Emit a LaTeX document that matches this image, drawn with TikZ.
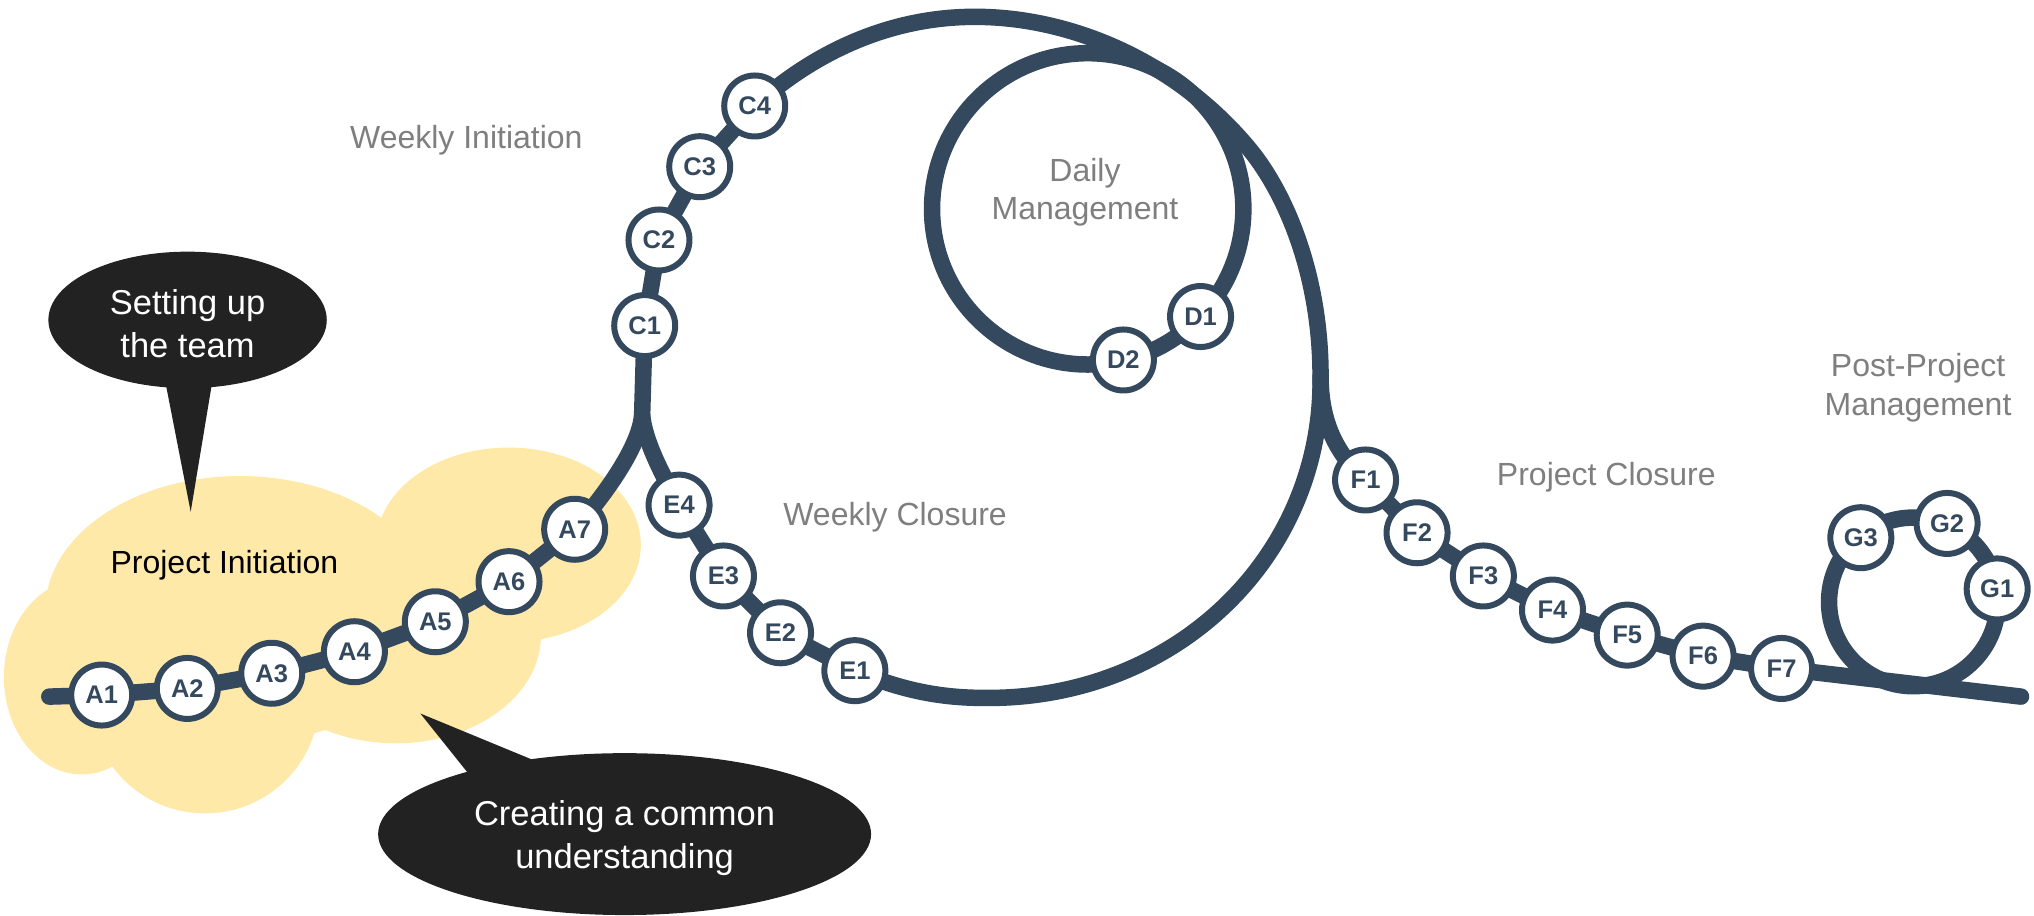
\documentclass[tikz,border=0pt]{standalone}
\usepackage{fontspec}
\setmainfont{Liberation Sans}
\pgfdeclarelayer{back}
\pgfsetlayers{back,main}
\definecolor{trackc}{HTML}{34495E}
\definecolor{cloudc}{HTML}{FFE9A8}
\definecolor{bubblec}{HTML}{222222}
\definecolor{labelgray}{HTML}{7F7F7F}
\begin{document}
\begin{tikzpicture}[x=1.2972pt,y=-1.2972pt,
  station/.style={circle,draw=trackc,line width=6pt,fill=white,minimum size=61pt,inner sep=0pt,
    font=\fontsize{25.5}{30}\selectfont\bfseries,text=trackc},
  trackline/.style={draw=trackc,line width=16.5pt,line cap=round,line join=round},
  phase/.style={font=\fontsize{32}{38.4}\selectfont,text=labelgray,align=center},
  bubbletext/.style={font=\fontsize{34.5}{42.7}\selectfont,text=white,align=center},
  bubble/.style={fill=bubblec},
  cloud/.style={fill=cloudc}
]
\useasboundingbox (0,0) rectangle (1568,706);

% call-outs
\fill[bubble] (144.6,246.6) ellipse [x radius=139.19pt, y radius=68.23pt];
\fill[bubble] (127,292) -- (147,394.5) -- (164,292) -- cycle;
\node[bubbletext] (setup) at (144.6,249.3) {Setting up\\the team};
\fill[bubble] (481.5,643) ellipse [x radius=246.47pt, y radius=80.95pt];
\fill[bubble] (324,550) -- (364,600) -- (421,590) -- cycle;
\node[bubbletext] (common) at (481.5,646) {Creating a common\\understanding};

% stations
\node[station] (A1) at (78.4,535.8) {A1};
\node[station] (A2) at (144.4,530.7) {A2};
\node[station] (A3) at (209.5,519) {A3};
\node[station] (A4) at (273.2,502.4) {A4};
\node[station] (A5) at (335.6,479.3) {A5};
\node[station] (A6) at (392.4,448.4) {A6};
\node[station] (A7) at (443,408) {A7};
\node[station] (C1) at (497,251) {C1};
\node[station] (C2) at (508,185) {C2};
\node[station] (C3) at (539.4,128.5) {C3};
\node[station] (C4) at (581.8,81.7) {C4};
\node[station] (D1) at (925.5,244) {D1};
\node[station] (D2) at (866,277.5) {D2};
\node[station] (E4) at (523.5,389.4) {E4};
\node[station] (E3) at (557.7,444) {E3};
\node[station] (E2) at (601.7,487.8) {E2};
\node[station] (E1) at (659,517) {E1};
\node[station] (F1) at (1052.7,370) {F1};
\node[station] (F2) at (1092.4,410.7) {F2};
\node[station] (F3) at (1143.5,444) {F3};
\node[station] (F4) at (1196.8,470.3) {F4};
\node[station] (F5) at (1254.4,489.6) {F5};
\node[station] (F6) at (1312.9,505.8) {F6};
\node[station] (F7) at (1373.4,515.3) {F7};
\node[station] (G1) at (1539.6,454) {G1};
\node[station] (G2) at (1501,403.5) {G2};
\node[station] (G3) at (1434.5,414.5) {G3};

% phase labels
\node[phase] (winit) at (359.5,108) {Weekly Initiation};
\node[phase] (daily) at (836.4,148.4) {Daily\\Management};
\node[phase] (wclose) at (690,398.4) {Weekly Closure};
\node[phase] (pclose) at (1238.3,367.5) {Project Closure};
\node[phase] (post) at (1478.6,298.8) {Post-Project\\Management};
\node[font=\fontsize{32}{38.4}\selectfont,text=black] (pinit) at (173,435.6) {Project Initiation};

% helper points
\coordinate (S) at (38,537);
\coordinate (Z) at (1558,537);
\coordinate (J) at (495,320);
\coordinate (T) at (755,13);
\coordinate (R) at (964,116);
\coordinate (Q) at (1018,290);
\coordinate (B) at (758,538);
\coordinate (Dc) at (838.5,161);
\coordinate (Gc) at (1475,464);

\begin{pgfonlayer}{back}
\fill[white] (0,0) rectangle (1568,706);
% cloud
\fill[cloud] (185,470) ellipse [x radius=194.58pt, y radius=133.61pt];
\fill[cloud] (392,420) ellipse [x radius=132.31pt, y radius=97.29pt];
\fill[cloud] (63,522) ellipse [x radius=77.83pt, y radius=97.29pt];
\fill[cloud] (158,540) ellipse [x radius=114.15pt, y radius=112.86pt];
\fill[cloud] (305,490) ellipse [x radius=145.29pt, y radius=107.67pt];
% tracks
\draw[trackline] (S) -- (A1.center) -- (A2.center) -- (A3.center) -- (A4.center)
  -- (A5.center) -- (A6.center) -- (A7.center)
  .. controls (465,383) and (493,345) .. (J) -- (C1.center);
\draw[trackline] (J) .. controls (497,340) and (510,365) .. (E4.center)
  -- (E3.center) -- (E2.center) -- (E1.center)
  .. controls (690,530) and (720,538) .. (B)
  .. controls (905,540) and (1020,430) .. (Q);
\draw[trackline] (C1.center) -- (C2.center) -- (C3.center) -- (C4.center)
  .. controls (630,38) and (690,12) .. (T)
  .. controls (830,14) and (910,50) .. (R)
  .. controls (990,148) and (1018,210) .. (Q)
  .. controls (1018,325) and (1030,350) .. (F1.center)
  -- (F2.center) -- (F3.center) -- (F4.center) -- (F5.center) -- (F6.center)
  -- (F7.center) -- (Z);
\draw[trackline] (Dc) circle [radius=155.66pt];
\draw[trackline] (Gc) circle [radius=84.32pt];
\end{pgfonlayer}
\end{tikzpicture}
\end{document}
